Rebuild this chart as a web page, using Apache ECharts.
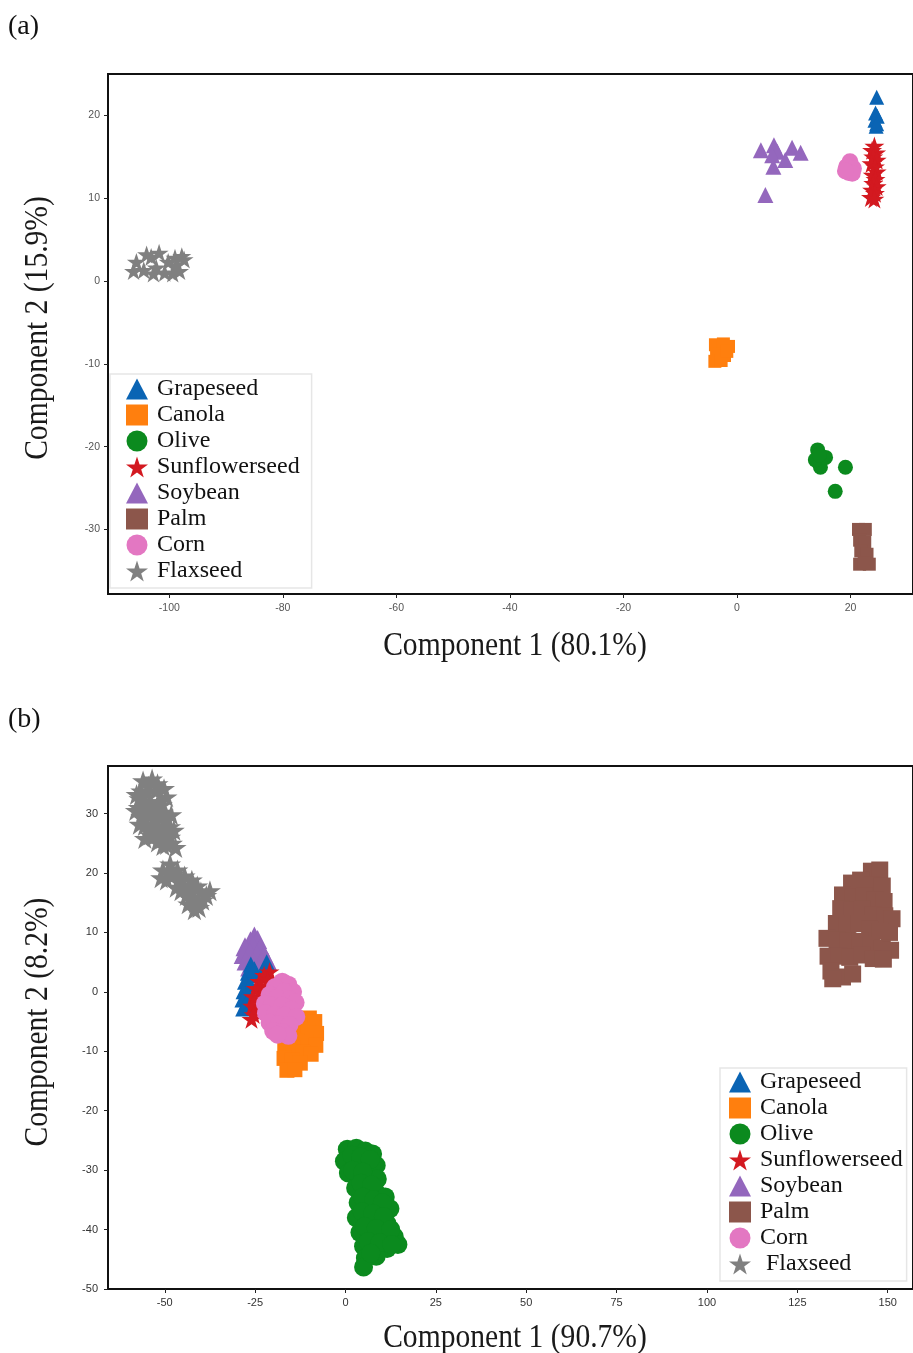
<!DOCTYPE html>
<html><head><meta charset="utf-8">
<script src="https://cdn.jsdelivr.net/npm/echarts@6/dist/echarts.min.js"></script>
<style>html,body{margin:0;padding:0;background:#fff}#c{width:913px;height:1353px}</style>
</head><body><div id="c"></div>
<script>
// ---------- categories ----------
const legendNames = ['Grapeseed','Canola','Olive','Sunflowerseed','Soybean','Palm','Corn','Flaxseed'];

// ---------- tick labels ----------
const xTicksA = [-100,-80,-60,-40,-20,0,20];
const yTicksA = [-30,-20,-10,0,10,20];
const xTicksB = [-50,-25,0,25,50,75,100,125,150];
const yTicksB = [-50,-40,-30,-20,-10,0,10,20,30];

// ---------- (a) scores ----------
const grapeA = [[24.6,22.2],[24.4,20.3],[24.7,19.9],[24.3,19.4],[24.6,19.0],[24.5,18.7]];
const canolaA = [[-3.8,-7.7],[-2.4,-7.6],[-1.5,-7.9],[-3.6,-8.8],[-2.2,-9.0],[-3.9,-9.7],[-2.8,-9.6],[-1.8,-8.5]];
const oliveA = [[14.2,-20.4],[14.7,-22.5],[13.8,-21.6],[15.6,-21.3],[19.1,-22.5],[17.3,-25.4],[14.5,-21.0]];
const sunA = [[24.2,16.3],[23.8,15.8],[24.5,15.5],[24.0,15.0],[24.6,14.6],[23.7,14.2],[24.3,13.8],[24.6,13.2],[23.9,12.8],[24.4,12.3],[24.0,11.8],[24.6,11.4],[23.8,11.0],[24.3,10.6],[23.6,10.1],[24.2,9.9]];
const soyA = [[4.2,15.8],[6.5,16.4],[7.1,15.6],[9.7,16.1],[11.2,15.5],[8.5,14.6],[6.4,13.8],[5.0,10.4],[6.2,15.2]];
const palmA = [[21.4,-30.0],[22.6,-30.0],[21.6,-31.3],[22.5,-31.5],[21.8,-32.6],[22.9,-33.0],[21.6,-34.2],[23.3,-34.2],[22.4,-34.0]];
const cornA = [[19.3,13.8],[19.9,14.4],[20.5,13.6],[19.7,13.1],[20.3,13.0],[19.1,13.3]];
const flaxA = [[-105.8,2.3],[-104.5,1.3],[-103.2,2.9],[-104.0,3.2],[-101.8,3.4],[-100.2,2.3],[-100.8,1.0],[-99.0,2.8],[-98.2,1.2],[-97.4,2.6],[-99.4,0.9],[-102.3,1.6],[-106.3,1.2],[-102.8,0.9],[-97.8,3.0],[-98.8,1.9]];

// ---------- (b) scores ----------
const grapeB = [[-26.2,4.6],[-27.0,3.2],[-25.5,2.8],[-27.8,1.7],[-26.3,1.2],[-28.2,0.1],[-27.0,-0.4],[-28.5,-1.3],[-27.4,-1.8],[-28.3,-2.8],[-26.5,-2.5],[-21.8,5.0],[-22.6,3.8],[-25.2,3.8]];
const canolaB = [[-12.5,-4.5],[-10,-4.4],[-8.5,-5],[-13,-6.3],[-10.5,-6.5],[-8,-7],[-13.3,-8.2],[-10.8,-8.5],[-8.2,-9],[-16.8,-9.3],[-14.5,-9.5],[-11.8,-10.2],[-9.5,-10.5],[-17,-11.2],[-14.8,-11.5],[-12.5,-12],[-16.2,-13.2],[-14,-13.1]];
const oliveB = [[0.5,-26.5],[3,-26.3],[5.5,-26.8],[7.5,-27.3],[-0.3,-28.5],[2.5,-28.8],[5,-29],[8.5,-29.2],[0.8,-30.5],[3.5,-31],[6.5,-31.2],[8.8,-31.5],[2.8,-33],[5.5,-33.2],[8.5,-33.8],[11,-34.5],[3.5,-35.5],[6.5,-35.8],[9.5,-36.5],[12.3,-36.5],[3,-38],[6,-38.3],[9,-38.8],[11.5,-39],[4,-40.5],[7,-40.8],[10,-41],[13.5,-41.2],[5,-42.8],[8,-43],[11.5,-43.2],[14.5,-42.5],[5.5,-44.8],[8.5,-44.5],[5,-46.3],[1.8,-27.5],[4.2,-27.8],[6.8,-28.2],[2,-30],[4.8,-30.3],[4.3,-32.2],[7.2,-32.5],[4.8,-34.5],[7.8,-35],[10.2,-35.5],[4.6,-37],[7.6,-37.3],[10.5,-37.8],[5.3,-39.5],[8.5,-39.8],[12.5,-40],[6.3,-42],[9.5,-42.2],[12.8,-42.5],[7,-44]];
const sunB = [[-21,3.4],[-22.5,2.8],[-20.5,1.8],[-23.8,1.8],[-22.2,0.8],[-24.8,0.6],[-23.5,-0.3],[-25.6,-0.8],[-24.2,-1.6],[-25.8,-2.4],[-24.6,-3.0],[-25.4,-3.8],[-26.0,-4.6],[-21.5,2.0],[-23.2,-1.0]];
const soyB = [[-25.2,9.4],[-24.3,8.8],[-26.3,8.6],[-27.8,7.6],[-25.5,7.8],[-23.5,7.5],[-28.3,6.3],[-26.5,6.6],[-24.5,6.4],[-22.5,6.2],[-27.5,5.2],[-25.5,5.0],[-23.2,5.0],[-21.5,5.1],[-26.5,4.2],[-24,4.0]];
const palmB = [[145.5,20.3],[147.8,20.5],[140,18.3],[142.5,18.8],[145.8,18],[148.5,17.8],[137.5,16.3],[140.5,16],[143.5,16.2],[146.5,15.5],[149,15.2],[137,14],[140,13.8],[143,14],[146,13],[149.2,12.8],[151.2,12.3],[135.8,11.5],[138.8,11.3],[142,11.5],[145,10.5],[148,10.2],[150.5,10],[133.2,9],[136,8.8],[139,8.6],[142.3,8.5],[145.5,7.8],[148.5,7.3],[150.8,7],[133.5,6],[136.5,6],[139.5,5.8],[143,6.2],[146,5.6],[148.8,5.5],[134.3,3.5],[137.5,2.5],[140.3,3],[134.8,2.2]];
const cornB = [[-17.5,1.7],[-15.8,1.2],[-19.5,0.8],[-14.5,0],[-17,0],[-21,-0.5],[-19,-1],[-15.5,-1.3],[-13.8,-1.8],[-22.3,-2],[-20.5,-2.3],[-17.5,-2.3],[-15,-3],[-22,-3.6],[-19.5,-3.8],[-16.8,-4],[-13.6,-4.2],[-21,-5.2],[-18.5,-5.5],[-15.5,-5.6],[-20,-6.6],[-17.3,-6.8],[-15.8,-7.4],[-18.8,-7.2]];
const flaxB = [[-56,35.5],[-53.5,35.8],[-55,33.5],[-52.5,33.8],[-57,32.5],[-54,32],[-51.5,32],[-56,30.5],[-53,30.5],[-50.5,30.2],[-55.5,29],[-52.5,29],[-50,28.8],[-54.5,27.5],[-51.5,27.3],[-49.5,27.2],[-53,26.2],[-50.5,25.8],[-48.5,26],[-52,25.2],[-49.5,24.8],[-47,24.3],[-55.3,31.5],[-53.5,28.2],
  [-54.5,34.6],[-52,35],[-56.5,33.8],[-54.8,31],[-52.2,31.2],[-50.8,31.5],[-57.2,31],[-56.5,29.5],[-54,29.8],[-51.5,29.8],[-49.5,29.5],[-55.6,28],[-53,27.6],[-50.8,27],[-52,26.6],[-48.5,27.8],[-54,26.4],[-50.5,24.6],[-48,25],
  [-57.8,33.2],[-58,30.5],[-49.5,32.8],[-50.2,34.2],[-57,28.2],[-48.2,29.8],[-55.5,25.8],[-47.5,27.2],
  [-50.5,20.5],[-48.5,21.5],[-47.5,19.8],[-49.5,18.8],[-46,18.5],[-44.5,19.5],[-45.5,17],[-43,17.5],[-42,16],[-40,16.8],[-38.5,16.2],[-41.5,15],[-43.5,14.8],[-40.5,14.2],[-44,16.2],[-46.5,20.5],[-42.5,18.8],
  [-48.5,20],[-51,19.2],[-46.8,17.6],[-44.8,18],[-41,17.8],[-42.8,15.6],[-41.8,13.8],[-39.5,15.4],[-37.5,17]];

// ---------- styling ----------
const STAR = 'path://M50,0 L61.2,34.5 L97.6,34.5 L68.2,55.9 L79.4,90.5 L50,69.1 L20.6,90.5 L31.8,55.9 L2.4,34.5 L38.8,34.5 Z';
const styles = {
  Grapeseed:{color:'#0a64b4', symbol:'triangle', a:15, b:16},
  Canola:{color:'#ff7f0e', symbol:'rect', a:13, b:15},
  Olive:{color:'#0b8a1e', symbol:'circle', a:15, b:19},
  Sunflowerseed:{color:'#d31920', symbol:STAR, a:20, b:20},
  Soybean:{color:'#9467bd', symbol:'triangle', a:16, b:19},
  Palm:{color:'#8c564b', symbol:'rect', a:13, b:17},
  Corn:{color:'#e377c2', symbol:'circle', a:17, b:18},
  Flaxseed:{color:'#808080', symbol:STAR, a:19, b:22}
};
const dataA = {Grapeseed:grapeA, Canola:canolaA, Olive:oliveA, Sunflowerseed:sunA, Soybean:soyA, Palm:palmA, Corn:cornA, Flaxseed:flaxA};
const dataB = {Grapeseed:grapeB, Canola:canolaB, Olive:oliveB, Sunflowerseed:sunB, Soybean:soyB, Palm:palmB, Corn:cornB, Flaxseed:flaxB};
const drawOrder = ['Palm','Olive','Flaxseed','Soybean','Canola','Grapeseed','Corn','Sunflowerseed'];
const drawOrderB = ['Palm','Olive','Flaxseed','Soybean','Canola','Grapeseed','Sunflowerseed','Corn'];

const series = [];
drawOrder.forEach(n => series.push({
  type:'scatter', name:n, xAxisIndex:0, yAxisIndex:0, data:dataA[n],
  symbol:styles[n].symbol, symbolSize:styles[n].a, symbolKeepAspect:true,
  itemStyle:{color:styles[n].color, opacity:1}, emphasis:{disabled:true}, silent:true
}));
drawOrderB.forEach(n => series.push({
  type:'scatter', name:n, xAxisIndex:1, yAxisIndex:1, data:dataB[n],
  symbol:styles[n].symbol, symbolSize:styles[n].b, symbolKeepAspect:true,
  itemStyle:{color:styles[n].color, opacity:1}, emphasis:{disabled:true}, silent:true
}));

const SERIF = '"Liberation Serif","Times New Roman",serif';
const SANS = '"Liberation Sans",Arial,sans-serif';

function axis(grid, min, max, ticks, fs, col, margin){
  return {type:'value', gridIndex:grid, min:min, max:max,
    axisLine:{show:false, onZero:false}, splitLine:{show:false},
    axisTick:{show:true, inside:false, length:4, lineStyle:{color:'#222', width:1}, customValues:ticks},
    axisLabel:{fontFamily:SANS, fontSize:fs, color:col, margin:margin, customValues:ticks}};
}

function legend(left, top, pad, formatter){
  return {orient:'vertical', left:left, top:top, data:legendNames,
    itemWidth:22, itemHeight:21, itemGap:0, padding:pad,
    backgroundColor:'#fff', borderColor:'#e6e6e6', borderWidth:1.5,
    selectedMode:false, formatter:formatter,
    textStyle:{fontFamily:SERIF, fontSize:24, color:'#111', lineHeight:26, padding:[0,0,0,4]}};
}

function title(txt, x, y, rot){
  return {type:'text', x:x, y:y, rotation:rot||0, scaleX:0.87, silent:true,
    style:{text:txt, font:'34px ' + SERIF, fill:'#1a1a1a', align:'center', verticalAlign:'middle'}};
}

const option = {
  animation:false,
  backgroundColor:'#fff',
  grid:[
    {left:108, top:74, width:805, height:520, show:true, borderColor:'#111', borderWidth:2, backgroundColor:'transparent'},
    {left:108, top:766, width:805, height:523, show:true, borderColor:'#111', borderWidth:2, backgroundColor:'transparent'}
  ],
  xAxis:[
    axis(0, -110.8, 31.0, xTicksA, 10.5, '#555', 9),
    axis(1, -65.7, 157.0, xTicksB, 11, '#333', 8)
  ],
  yAxis:[
    axis(0, -37.8, 25.0, yTicksA, 10.5, '#555', 8),
    axis(1, -50, 38, yTicksB, 11, '#333', 10)
  ],
  legend:[
    legend(110, 374, [2,12,4,16], n => n),
    legend(720, 1068, [1,4,4,9], n => n === 'Flaxseed' ? ' Flaxseed' : n)
  ],
  graphic:[
    {type:'text', x:8, y:27, silent:true, style:{text:'(a)', font:'28px ' + SERIF, fill:'#111', align:'left', verticalAlign:'middle'}},
    {type:'text', x:8, y:720, silent:true, style:{text:'(b)', font:'28px ' + SERIF, fill:'#111', align:'left', verticalAlign:'middle'}},
    title('Component 1 (80.1%)', 515, 646),
    title('Component 2 (15.9%)', 38, 328, Math.PI/2),
    title('Component 1 (90.7%)', 515, 1338),
    title('Component 2 (8.2%)', 38, 1022, Math.PI/2)
  ],
  series:series
};
const chart = echarts.init(document.getElementById('c'), null, {renderer:'canvas'});
chart.setOption(option);
</script></body></html>
